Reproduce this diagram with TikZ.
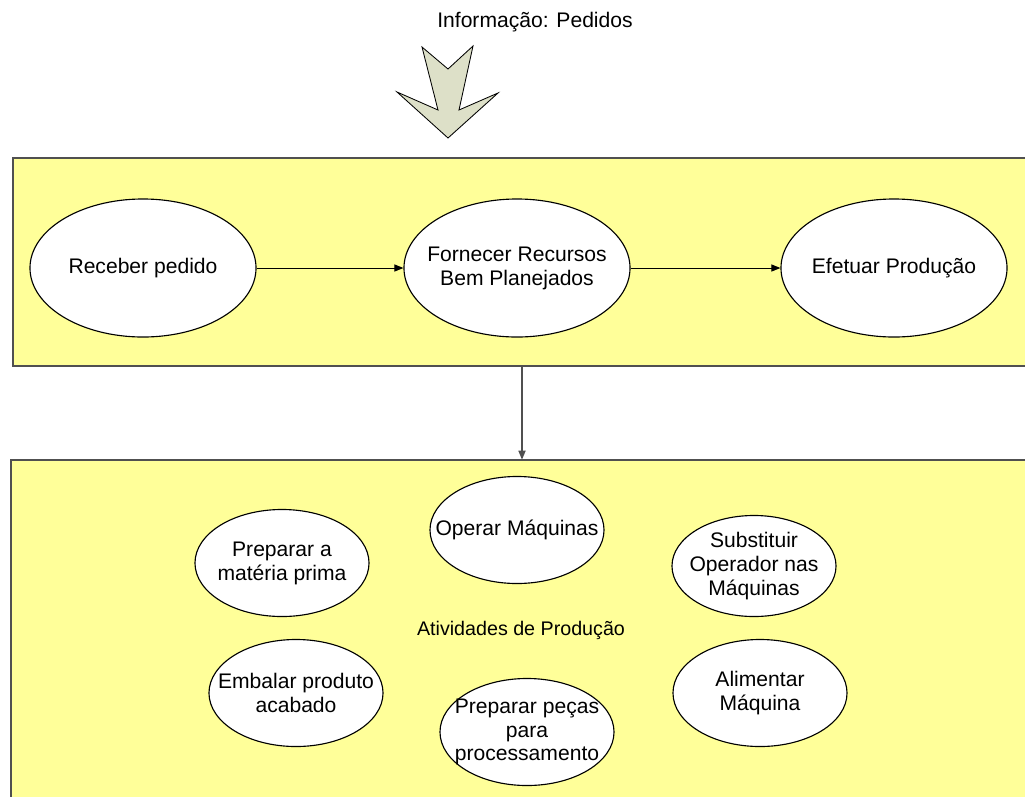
\documentclass[tikz,border=0pt]{standalone}
\usepackage{fontspec}
\setmainfont{Liberation Sans}
\usetikzlibrary{shapes.geometric,arrows.meta}
\definecolor{panelfill}{RGB}{255,255,153}
\definecolor{panelline}{RGB}{80,80,80}
\definecolor{arrowfill}{RGB}{221,224,200}
\tikzset{
  panel/.style={draw=panelline, line width=1.4pt, fill=panelfill, anchor=north west, inner sep=0pt},
  oval/.style={ellipse, draw=black, line width=0.8pt, fill=white, inner sep=0pt},
  bigoval/.style={oval, minimum width=5.65cm, minimum height=3.45cm},
  smalloval/.style={oval, minimum width=4.35cm, minimum height=2.675cm},
  txt/.style={align=center, font=\fontsize{15}{17}\selectfont, inner sep=0pt},
  flow/.style={draw=black, line width=0.7pt, -{Triangle[length=6.4pt, width=5pt]}},
  drop/.style={draw=panelline, line width=1.1pt, -{Triangle[length=6.4pt, width=5pt]}, shorten >=-0.5pt}
}
\begin{document}
\begin{tikzpicture}[x=0.025cm, y=-0.025cm]
  \useasboundingbox (0,0) rectangle (1025,796);
  \clip (0,0) rectangle (1025,796);

  % incoming information
  \node[txt] (info) at (535,22) {Informação: Pedidos};
  \draw[fill=arrowfill, draw=black, line width=0.6pt]
    (422,47) -- (448,69) -- (473,46) -- (459,110) -- (498,93)
    -- (448,138) -- (397,92) -- (438,110) -- cycle;

  % upper panel: main process
  \node[panel, minimum width=25.7cm, minimum height=5.2cm] (top) at (12,157) {};
  \node[bigoval] (rec) at (143,268) {};
  \node[txt] (rect) at (rec) {Receber pedido};
  \node[bigoval] (forn) at (517,268) {};
  \node[txt] (fornt) at (forn) {Fornecer Recursos\\Bem Planejados};
  \node[bigoval] (efet) at (894,268) {};
  \node[txt] (efett) at (efet) {Efetuar Produção};
  \draw[flow] (rec.east) -- (forn.west);
  \draw[flow] (forn.east) -- (efet.west);

  % lower panel: production activities
  \node[panel, minimum width=25.8cm, minimum height=9.0cm] (bot) at (10,459) {};
  \coordinate (vx) at (522,0);
  \draw[drop] (top.south -| vx) -- (bot.north -| vx);

  \node[txt, font=\fontsize{14}{16}\selectfont] (ativ) at (521,630) {Atividades de Produção};

  \node[smalloval] (prep) at (282,563) {};
  \node[txt] (prept) at (prep) {Preparar a\\matéria prima};
  \node[smalloval] (oper) at (517,530) {};
  \node[txt] (opert) at (oper) {Operar Máquinas};
  \node[oval, minimum width=4.1cm, minimum height=2.525cm] (subs) at (754,566) {};
  \node[txt] (subst) at (subs) {Substituir\\Operador nas\\Máquinas};
  \node[smalloval] (emb) at (296,693) {};
  \node[txt] (embt) at (emb) {Embalar produto\\acabado};
  \node[smalloval] (pecas) at (527,732) {};
  \node[txt] (pecast) at (pecas) {Preparar peças\\para\\processamento};
  \node[smalloval] (alim) at (760,693) {};
  \node[txt] (alimt) at (alim) {Alimentar\\Máquina};
\end{tikzpicture}
\end{document}
